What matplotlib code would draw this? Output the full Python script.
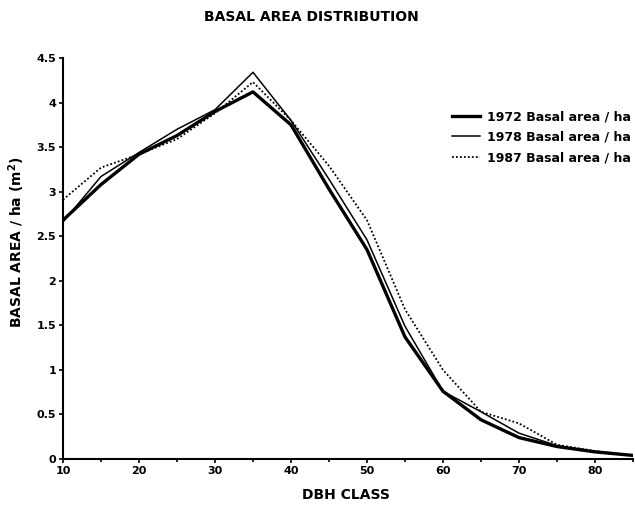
import matplotlib.pyplot as plt

# DBH classes (cm) and basal area per ha (m2)
dbh = [10, 15, 20, 25, 30, 35, 40, 45, 50, 55, 60, 65, 70, 75, 80, 85]
ba_1972 = [2.68, 3.08, 3.42, 3.63, 3.90, 4.12, 3.75, 3.03, 2.35, 1.37, 0.76, 0.44, 0.24, 0.14, 0.08, 0.04]
ba_1978 = [2.66, 3.17, 3.44, 3.70, 3.92, 4.34, 3.80, 3.14, 2.46, 1.49, 0.76, 0.53, 0.29, 0.15, 0.08, 0.04]
ba_1987 = [2.91, 3.27, 3.42, 3.59, 3.88, 4.23, 3.80, 3.29, 2.68, 1.68, 1.00, 0.53, 0.40, 0.16, 0.09, 0.04]

x_ticks = [10, 20, 30, 40, 50, 60, 70, 80]
y_ticks = [0, 0.5, 1, 1.5, 2, 2.5, 3, 3.5, 4, 4.5]
y_labels = ["0", "0.5", "1", "1.5", "2", "2.5", "3", "3.5", "4", "4.5"]

plt.rcParams['font.family'] = ['DejaVu Sans']
plt.rcParams['font.weight'] = 'bold'

fig = plt.figure(figsize=(6.35, 5.05), dpi=100)
ax = fig.add_axes([0.0992, 0.0911, 0.8976, 0.794])

ax.plot(dbh, ba_1972, color='black', lw=2.4, label='1972 Basal area / ha')
ax.plot(dbh, ba_1978, color='black', lw=1.1, label='1978 Basal area / ha')
ax.plot(dbh, ba_1987, color='black', lw=1.3, ls=(0, (1, 1.2)), label='1987 Basal area / ha')

ax.set_xlim(10, 85)
ax.set_ylim(0, 4.5)
ax.set_xticks(x_ticks)
ax.set_xticks([15, 25, 35, 45, 55, 65, 75, 85], minor=True)
ax.set_yticks(y_ticks)
ax.set_yticklabels(y_labels)
ax.tick_params(axis='both', labelsize=8, length=3, width=1.2, direction='out', pad=2)
ax.tick_params(axis='x', which='minor', length=2.5, width=1.2)
for s in ['top', 'right']:
    ax.spines[s].set_visible(False)
for s in ['left', 'bottom']:
    ax.spines[s].set_linewidth(1.5)

fig.text(0.49, 0.966, 'BASAL AREA DISTRIBUTION', ha='center', va='center',
         fontsize=10, fontweight='bold')
fig.text(0.026, 0.52, 'BASAL AREA / ha (m$^2$)', rotation=90, ha='center', va='center',
         fontsize=10, fontweight='bold')
fig.text(0.545, 0.019, 'DBH CLASS', ha='center', va='center', fontsize=10, fontweight='bold')

leg = ax.legend(loc='upper left', bbox_to_anchor=(0.712, 0.782), bbox_transform=fig.transFigure,
                frameon=False, fontsize=9, handlelength=2.25, handletextpad=0.55,
                labelspacing=0.6, borderaxespad=0, borderpad=0)

fig.savefig('out.png', dpi=100)
